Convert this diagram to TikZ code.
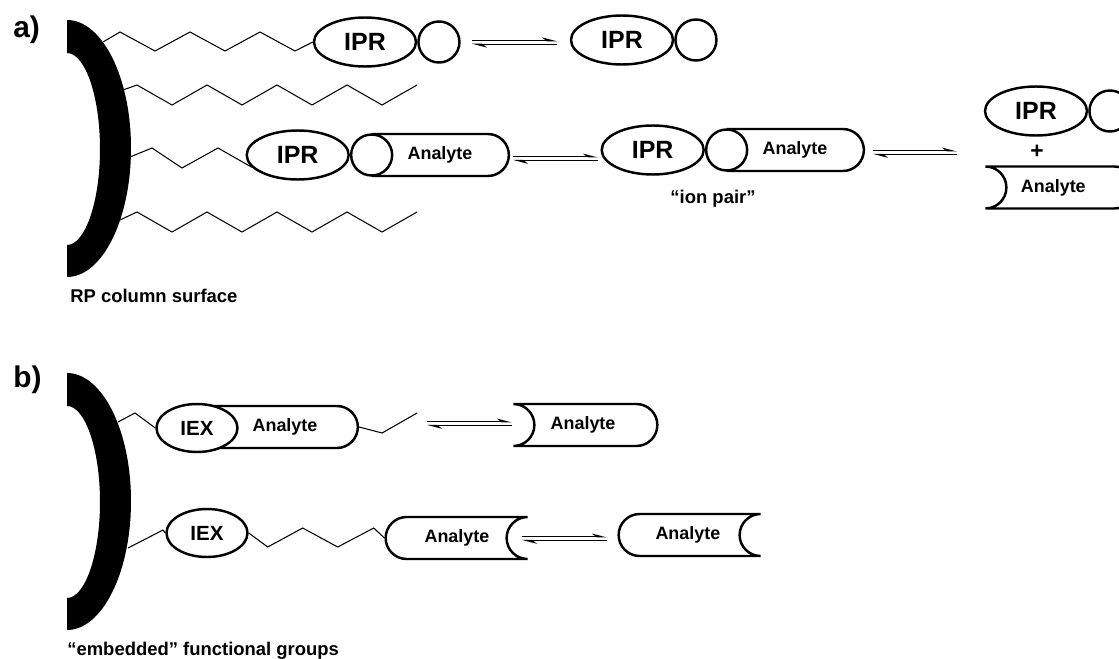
\documentclass[tikz,border=0pt]{standalone}
\usepackage{fontspec}
\setmainfont{Liberation Sans}
\usetikzlibrary{shapes.geometric,shapes.misc,positioning,arrows.meta}

\begin{document}
\begin{tikzpicture}[x=0.02cm,y=-0.02cm,
    ipr/.style={ellipse,draw,fill=white,line width=1.4pt,inner sep=0pt,minimum width=2.04cm,minimum height=0.98cm,font=\fontsize{14.2}{17}\selectfont\bfseries},
    iex/.style={ellipse,draw,fill=white,line width=1.4pt,inner sep=0pt,minimum width=1.62cm,minimum height=0.96cm,font=\fontsize{11.7}{14}\selectfont\bfseries},
    bead/.style={circle,draw,fill=white,line width=1.4pt,inner sep=0pt,minimum size=0.82cm},
    analyte/.style={rounded rectangle,draw,fill=white,line width=1.4pt,inner sep=0pt,minimum height=0.84cm,font=\fontsize{10.2}{12}\selectfont\bfseries},
    chain/.style={line width=0.6pt},
    fwd/.style={line width=0.8pt,-{Stealth[left,length=7pt,width=3.6pt]}},
    bwd/.style={line width=0.8pt,{Stealth[left,length=7pt,width=3.6pt]}-},
    lbl/.style={font=\fontsize{10.5}{12}\selectfont\bfseries,inner sep=0pt},
    panel/.style={font=\fontsize{17}{20}\selectfont\bfseries,inner sep=0pt}]

    \useasboundingbox (0,0) rectangle (1119,659);

    % a) reversed phase surface with ion pair reagent
    \node[panel,anchor=base west] (pa) at (13,37) {a)};
    \fill (67,20) .. controls (102,20) and (131,77) .. (131,148) .. controls (131,220) and (102,277) .. (67,277)
        -- (67,245) .. controls (85,245) and (100,202) .. (100,149) .. controls (100,96) and (85,53) .. (67,53) -- cycle;

    \coordinate (s1) at (103,42);
    \coordinate (s2) at (123,90);
    \coordinate (s3) at (130,157);
    \coordinate (s4) at (120,220);

    \node[ipr] (ipr1) at (365,42) {IPR};
    \node[bead,right=0pt of ipr1] (bead1) {};
    \draw[chain] (s1) -- ++(17,-10) -- ++(35,19) -- ++(35,-19) -- ++(35,19) -- ++(35,-19) -- ++(35,19) -- (ipr1.west);

    \coordinate (eq1a) at (472,42.5);
    \coordinate (eq1b) at (557,42.5);
    \draw[fwd] ([yshift=1.1pt]eq1a) -- ([yshift=1.1pt]eq1b);
    \draw[bwd] ([yshift=-1.1pt]eq1a) -- ([yshift=-1.1pt]eq1b);

    \node[ipr] (ipr2) at (622,40) {IPR};
    \node[bead,right=0pt of ipr2] (bead2) {};

    \draw[chain] (s2) -- ++(14,-5) -- ++(35,20) -- ++(35,-20) -- ++(35,20) -- ++(35,-20) -- ++(35,20) -- ++(35,-20) -- ++(35,20) -- ++(35,-20);

    \node[analyte,rounded rectangle left arc=none,minimum width=2.72cm] (an1) at (440,155) {Analyte};
    \node[bead] (bead3) at (an1.west) {};
    \node[ipr,left=0pt of bead3] (ipr3) {IPR};
    \draw[chain] (s3) -- ++(22,-9) -- ++(30,20) -- ++(36,-20) -- (ipr3.195);

    \coordinate (eq2a) at (513,158.7);
    \coordinate (eq2b) at (598,158.7);
    \draw[fwd] ([yshift=1.1pt]eq2a) -- ([yshift=1.1pt]eq2b);
    \draw[bwd] ([yshift=-1.1pt]eq2a) -- ([yshift=-1.1pt]eq2b);

    \node[analyte,rounded rectangle left arc=none,minimum width=2.72cm] (an2) at (795,150) {Analyte};
    \node[bead] (bead4) at (an2.west) {};
    \node[ipr,left=0pt of bead4] (ipr4) {IPR};
    \node[lbl,anchor=base] (ionpair) at (713,203) {“ion pair”};

    \coordinate (eq3a) at (873,152.7);
    \coordinate (eq3b) at (957,152.7);
    \draw[fwd] ([yshift=1.1pt]eq3a) -- ([yshift=1.1pt]eq3b);
    \draw[bwd] ([yshift=-1.1pt]eq3a) -- ([yshift=-1.1pt]eq3b);

    \node[ipr] (ipr5) at (1036,111) {IPR};
    \node[bead,right=0pt of ipr5] (bead5) {};
    \node[lbl,font=\fontsize{13}{15}\selectfont\bfseries] (plus) at (1037,152) {+};
    \node[analyte,rounded rectangle left arc=concave,minimum width=3cm] (an3) at (1070,187.5) {Analyte\hspace*{19pt}};

    \draw[chain] (s4) -- ++(17,-8) -- ++(35,20) -- ++(35,-20) -- ++(35,20) -- ++(35,-20) -- ++(35,20) -- ++(35,-20) -- ++(35,20) -- ++(35,-20);

    \node[lbl,anchor=base west] (rp) at (70,302) {RP column surface};

    % b) embedded ion exchange groups
    \node[panel,anchor=base west] (pb) at (13,387) {b)};
    \fill (67,373) .. controls (102,373) and (131,430) .. (131,501) .. controls (131,573) and (102,630) .. (67,630)
        -- (67,598) .. controls (85,598) and (100,555) .. (100,502) .. controls (100,449) and (85,406) .. (67,406) -- cycle;

    \coordinate (s5) at (118,422);
    \coordinate (s6) at (128,548);

    \node[analyte,rounded rectangle left arc=none,minimum width=2.88cm] (an4) at (285,427) {Analyte};
    \node[iex] (iex1) at (197,428) {IEX};
    \draw[chain] (s5) -- ++(17,-9) -- (iex1.west);
    \draw[chain] (an4.east) -- ++(23,6) -- ++(35,-20);

    \coordinate (eq4a) at (427,423.7);
    \coordinate (eq4b) at (512,423.7);
    \draw[fwd] ([yshift=1.1pt]eq4a) -- ([yshift=1.1pt]eq4b);
    \draw[bwd] ([yshift=-1.1pt]eq4a) -- ([yshift=-1.1pt]eq4b);

    \node[analyte,rounded rectangle left arc=concave,minimum width=2.88cm] (an5) at (595,425) {Analyte\hspace*{13.6pt}};

    \node[iex] (iex2) at (207,533) {IEX};
    \node[analyte,rounded rectangle right arc=concave,minimum width=2.84cm] (an6) at (447,538) {\hspace*{11.3pt}Analyte};
    \draw[chain] (s6) -- ++(35,-18) -- (iex2.west);
    \draw[chain] (iex2.east) -- ++(19,14) -- ++(35,-19) -- ++(35,19) -- ++(36,-19) -- (an6.west);

    \coordinate (eq5a) at (522,538.7);
    \coordinate (eq5b) at (607,538.7);
    \draw[fwd] ([yshift=1.1pt]eq5a) -- ([yshift=1.1pt]eq5b);
    \draw[bwd] ([yshift=-1.1pt]eq5a) -- ([yshift=-1.1pt]eq5b);

    \node[analyte,rounded rectangle right arc=concave,minimum width=2.84cm] (an7) at (680,535) {\hspace*{9pt}Analyte};

    \node[lbl,anchor=base west] (emb) at (67,655) {“embedded” functional groups};
\end{tikzpicture}
\end{document}
